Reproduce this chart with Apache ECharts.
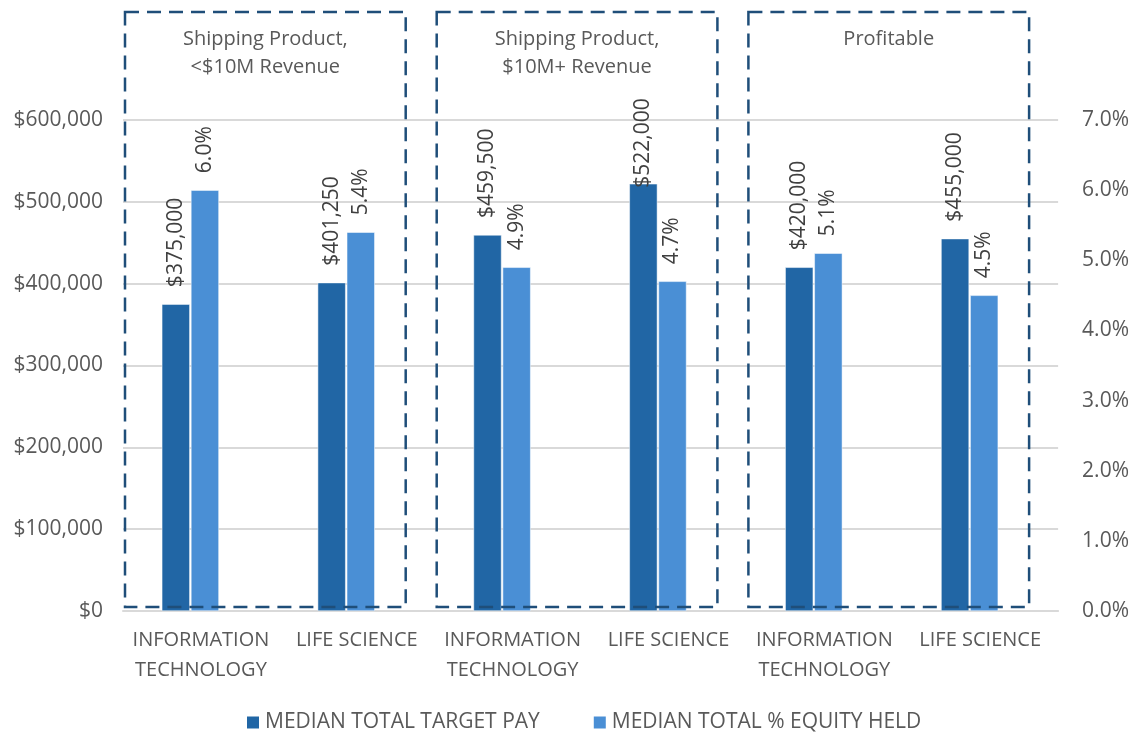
<!DOCTYPE html>
<html>
<head>
<meta charset="utf-8">
<script src="https://cdn.jsdelivr.net/npm/echarts@6/dist/echarts.min.js"></script>
<style>
html,body{margin:0;padding:0;background:#fff;}
#chart{width:1132px;height:733px;}
</style>
</head>
<body>
<div id="chart"></div>
<script>
var categories = ['INFORMATION\nTECHNOLOGY', 'LIFE SCIENCE', 'INFORMATION\nTECHNOLOGY', 'LIFE SCIENCE', 'INFORMATION\nTECHNOLOGY', 'LIFE SCIENCE'];
var groupTitles = ['Shipping Product,\n<$10M Revenue', 'Shipping Product,\n$10M+ Revenue', 'Profitable'];
var seriesNames = ['MEDIAN TOTAL TARGET PAY', 'MEDIAN TOTAL % EQUITY HELD'];
var targetPay = [375000, 401250, 459500, 522000, 420000, 455000];
var equityHeld = [6.0, 5.4, 4.9, 4.7, 5.1, 4.5];
var payTicks = {min: 0, max: 600000, interval: 100000};
var equityTicks = {min: 0, max: 7, interval: 1};

var FONT = '"Open Sans", "Noto Sans", sans-serif';
var FS = 20, FS2 = 21;
var DARK = '#2166A5', LIGHT = '#4A8FD5', BOX = '#1F4E79';

function money(v){ return '$' + Math.round(v).toString().replace(/\B(?=(\d{3})+(?!\d))/g, ','); }

var chart = echarts.init(document.getElementById('chart'), null, {renderer: 'canvas'});

var labelBase = {show: true, position: 'top', rotate: 90, align: 'left', verticalAlign: 'middle', distance: 17,
  fontFamily: FONT, fontSize: FS2, color: '#404040'};

var maxPay = Math.max.apply(null, targetPay);
var payData = targetPay.map(function(v){
  return v === maxPay ? {value: v, label: {distance: -4}} : v;
});

var option = {
  animation: false,
  backgroundColor: '#fff',
  textStyle: {fontFamily: FONT},
  grid: {left: 123, right: 72, top: 120, bottom: 122, containLabel: false},
  legend: {
    top: 707, left: 240, itemWidth: 14, itemHeight: 14, itemGap: 52,
    icon: 'rect',
    textStyle: {fontFamily: FONT, fontSize: FS2, color: '#595959'},
    data: seriesNames
  },
  xAxis: {
    type: 'category', data: categories,
    axisLine: {lineStyle: {color: '#D9D9D9', width: 2}},
    axisTick: {show: false},
    axisLabel: {fontFamily: FONT, fontSize: FS, color: '#595959', margin: 14, lineHeight: 30, interval: 0}
  },
  yAxis: [{
    type: 'value', min: payTicks.min, max: payTicks.max, interval: payTicks.interval,
    axisLine: {show: false}, axisTick: {show: false},
    splitLine: {lineStyle: {color: '#D9D9D9', width: 2}},
    axisLabel: {fontFamily: FONT, fontSize: FS2, color: '#595959', margin: 20, formatter: money}
  }, {
    type: 'value', min: equityTicks.min, max: equityTicks.max, interval: equityTicks.interval,
    axisLine: {show: false}, axisTick: {show: false}, splitLine: {show: false},
    axisLabel: {fontFamily: FONT, fontSize: FS2, color: '#595959', margin: 24,
      formatter: function(v){ return v.toFixed(1) + '%'; }}
  }],
  series: [{
    name: seriesNames[0], type: 'bar', yAxisIndex: 0, data: payData,
    barWidth: 28, barGap: '4%',
    itemStyle: {color: DARK, borderColor: '#fff', borderWidth: 0.5},
    label: Object.assign({}, labelBase, {formatter: function(p){ return money(p.value); }})
  }, {
    name: seriesNames[1], type: 'bar', yAxisIndex: 1, data: equityHeld,
    barWidth: 28, barGap: '4%',
    itemStyle: {color: LIGHT, borderColor: '#fff', borderWidth: 0.5},
    label: Object.assign({}, labelBase, {formatter: function(p){ return p.value.toFixed(1) + '%'; }})
  }, {
    // empty spacer slot so the bar pair sits left of the category centre, as in the original
    name: 'spacer', type: 'bar', yAxisIndex: 0, data: categories.map(function(){ return '-'; }),
    barWidth: 20, barGap: '4%', silent: true, itemStyle: {opacity: 0}
  }]
};
chart.setOption(option);

function drawBoxes(){
  var c0 = chart.convertToPixel({xAxisIndex: 0}, 0);
  var c1 = chart.convertToPixel({xAxisIndex: 0}, 1);
  var bw = c1 - c0;
  var yBottom = chart.convertToPixel({yAxisIndex: 0}, 0) - 4;
  var yTop = 12;
  var els = [];
  groupTitles.forEach(function(t, g){
    var first = chart.convertToPixel({xAxisIndex: 0}, g * 2);
    var last = chart.convertToPixel({xAxisIndex: 0}, g * 2 + 1);
    var x0 = first - bw / 2 + 2;
    var x1 = last + bw / 2 - 29;
    els.push({
      type: 'rect', silent: true, z: 100,
      shape: {x: x0, y: yTop, width: x1 - x0, height: yBottom - yTop},
      style: {fill: null, stroke: BOX, lineWidth: 2.5, lineDash: [14, 8]}
    });
    els.push({
      type: 'text', silent: true, z: 100,
      x: (x0 + x1) / 2, y: 25,
      style: {text: t, fontFamily: FONT, fontSize: FS, fill: '#595959', align: 'center', verticalAlign: 'top', lineHeight: 28}
    });
  });
  chart.setOption({graphic: {elements: els}});
}
drawBoxes();
</script>
</body>
</html>
